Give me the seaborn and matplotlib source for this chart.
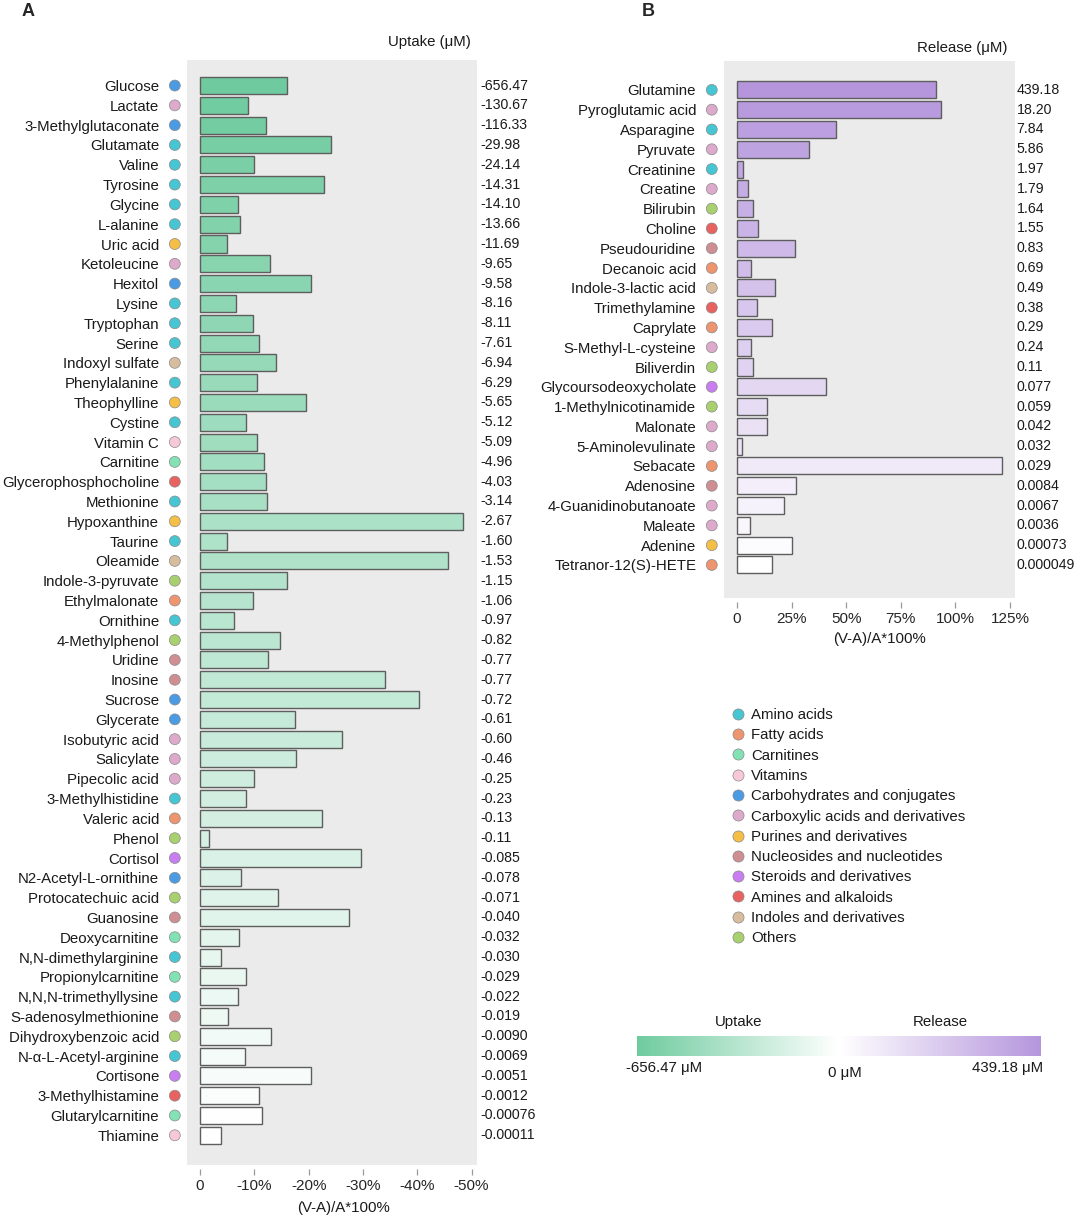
import numpy as np
import pandas as pd
import seaborn as sns
import matplotlib.pyplot as plt
import matplotlib as mpl
from matplotlib.colors import LinearSegmentedColormap, TwoSlopeNorm
from matplotlib.lines import Line2D
import matplotlib.transforms as mtransforms

# ---- data ----
category_names = ["Amino acids", "Fatty acids", "Carnitines", "Vitamins",
                  "Carbohydrates and conjugates", "Carboxylic acids and derivatives",
                  "Purines and derivatives", "Nucleosides and nucleotides",
                  "Steroids and derivatives", "Amines and alkaloids",
                  "Indoles and derivatives", "Others"]
category_colors = ["#45C6D2", "#EE946E", "#82E2B4", "#F7C9D8", "#4A9BE3", "#DDAACB",
                   "#F5BF45", "#CF8E92", "#C87EF0", "#E8625F", "#D8BC9E", "#A9D06E"]

uptake_names = ["Glucose", "Lactate", "3-Methylglutaconate", "Glutamate", "Valine", "Tyrosine",
                "Glycine", "L-alanine", "Uric acid", "Ketoleucine", "Hexitol", "Lysine",
                "Tryptophan", "Serine", "Indoxyl sulfate", "Phenylalanine", "Theophylline",
                "Cystine", "Vitamin C", "Carnitine", "Glycerophosphocholine", "Methionine",
                "Hypoxanthine", "Taurine", "Oleamide", "Indole-3-pyruvate", "Ethylmalonate",
                "Ornithine", "4-Methylphenol", "Uridine", "Inosine", "Sucrose", "Glycerate",
                "Isobutyric acid", "Salicylate", "Pipecolic acid", "3-Methylhistidine",
                "Valeric acid", "Phenol", "Cortisol", "N2-Acetyl-L-ornithine",
                "Protocatechuic acid", "Guanosine", "Deoxycarnitine", "N,N-dimethylarginine",
                "Propionylcarnitine", "N,N,N-trimethyllysine", "S-adenosylmethionine",
                "Dihydroxybenzoic acid", "N-α-L-Acetyl-arginine", "Cortisone",
                "3-Methylhistamine", "Glutarylcarnitine", "Thiamine"]
uptake_pct = [-16.0, -8.8, -12.2, -24.2, -10.0, -22.9, -7.0, -7.4, -4.9, -12.9, -20.4, -6.7,
              -9.7, -10.8, -13.9, -10.5, -19.5, -8.4, -10.4, -11.7, -12.2, -12.4,
              -48.5, -4.9, -45.6, -16.1, -9.8, -6.3, -14.8, -12.6, -34.0, -40.3, -17.5,
              -26.1, -17.6, -10.0, -8.5, -22.5, -1.7, -29.6, -7.6, -14.4, -27.4, -7.2,
              -3.8, -8.5, -7.0, -5.2, -13.1, -8.2, -20.5, -10.8, -11.5, -3.8]
uptake_conc = ["-656.47", "-130.67", "-116.33", "-29.98", "-24.14", "-14.31", "-14.10", "-13.66",
               "-11.69", "-9.65", "-9.58", "-8.16", "-8.11", "-7.61", "-6.94", "-6.29", "-5.65",
               "-5.12", "-5.09", "-4.96", "-4.03", "-3.14", "-2.67", "-1.60", "-1.53", "-1.15",
               "-1.06", "-0.97", "-0.82", "-0.77", "-0.77", "-0.72", "-0.61", "-0.60", "-0.46",
               "-0.25", "-0.23", "-0.13", "-0.11", "-0.085", "-0.078", "-0.071", "-0.040",
               "-0.032", "-0.030", "-0.029", "-0.022", "-0.019", "-0.0090", "-0.0069",
               "-0.0051", "-0.0012", "-0.00076", "-0.00011"]
uptake_cat = [4, 5, 4, 0, 0, 0, 0, 0, 6, 5, 4, 0, 0, 0, 10, 0, 6, 0, 3, 2, 9, 0,
              6, 0, 10, 11, 1, 0, 11, 7, 7, 4, 4, 5, 5, 5, 0, 1, 11, 8, 4, 11, 7, 2,
              0, 2, 0, 7, 11, 0, 8, 9, 2, 3]

release_names = ["Glutamine", "Pyroglutamic acid", "Asparagine", "Pyruvate", "Creatinine",
                 "Creatine", "Bilirubin", "Choline", "Pseudouridine", "Decanoic acid",
                 "Indole-3-lactic acid", "Trimethylamine", "Caprylate", "S-Methyl-L-cysteine",
                 "Biliverdin", "Glycoursodeoxycholate", "1-Methylnicotinamide", "Malonate",
                 "5-Aminolevulinate", "Sebacate", "Adenosine", "4-Guanidinobutanoate",
                 "Maleate", "Adenine", "Tetranor-12(S)-HETE"]
release_pct = [91.2, 93.3, 45.5, 33.0, 2.7, 4.9, 7.2, 9.7, 26.3, 6.4, 17.5, 9.1, 15.9, 6.2,
               7.5, 40.6, 13.9, 13.5, 2.4, 121.3, 26.8, 21.3, 5.9, 25.2, 15.9]
release_conc = ["439.18", "18.20", "7.84", "5.86", "1.97", "1.79", "1.64", "1.55", "0.83",
                "0.69", "0.49", "0.38", "0.29", "0.24", "0.11", "0.077", "0.059", "0.042",
                "0.032", "0.029", "0.0084", "0.0067", "0.0036", "0.00073", "0.000049"]
release_cat = [0, 5, 0, 5, 0, 5, 11, 9, 7, 1, 10, 9, 1, 5, 11, 8, 11, 5, 5, 1, 7, 5, 5, 6, 1]

uptake_color = "#6FCB9F"
release_color = "#B596DD"

# ---- style ----
sns.set_theme(style="white")
plt.rcParams["font.family"] = ["Liberation Sans", "DejaVu Sans"]
FS = 10.8
FS_VAL = 10.2
TXT = "#1a1a1a"

fig = plt.figure(figsize=(10.8, 12.21), dpi=100)
W, H = 1080, 1221


def px_axes(l, t, r, b):
    return fig.add_axes([l / W, 1 - b / H, (r - l) / W, (b - t) / H])


def panel(ax, names, pct, conc, cats, top_color, ylim, xlim, ticks, ticklabels, val_x):
    n = len(names)
    cmap = LinearSegmentedColormap.from_list("g", ["white", top_color])
    bar_colors = [cmap(1 - i / (n - 1)) for i in range(n)]
    df = pd.DataFrame({"name": names, "pct": pct})
    sns.barplot(data=df, x="pct", y="name", hue="name", palette=bar_colors, legend=False,
                orient="h", width=0.86, saturation=1, edgecolor="#5E5E5E", linewidth=1.0,
                ax=ax)
    ax.set_facecolor("#EBEBEB")
    for s in ax.spines.values():
        s.set_visible(False)
    ax.set_ylim(*ylim)
    ax.set_xlim(*xlim)
    ax.set_xticks(ticks)
    ax.set_xticklabels(ticklabels, fontsize=FS, color=TXT)
    ax.spines["bottom"].set_position(("outward", 3))
    ax.tick_params(axis="x", direction="out", length=4, width=0.9, color="#9A9A9A",
                   pad=3, bottom=True)
    ax.tick_params(axis="y", length=0, pad=20, labelsize=FS, labelcolor=TXT)
    ax.set_ylabel("")
    trans = mtransforms.blended_transform_factory(ax.transAxes, ax.transData)
    ax.scatter([-0.042] * n, np.arange(n), s=62, c=[category_colors[c] for c in cats],
               edgecolors="#8A8A8A", linewidths=0.5, transform=trans, clip_on=False, zorder=5)
    for i, v in enumerate(conc):
        ax.text(val_x, i, v, transform=trans, ha="left", va="center", fontsize=FS_VAL,
                color=TXT)


# panel A
axA = px_axes(187, 60, 477, 1165)
panel(axA, uptake_names, uptake_pct, uptake_conc, uptake_cat, uptake_color,
      (54.5, -1.29), (2.4, -51.0), [0, -10, -20, -30, -40, -50],
      ["0", "-10%", "-20%", "-30%", "-40%", "-50%"], 1.01)
axA.set_xlabel("(V-A)/A*100%", fontsize=FS, color=TXT)
axA.xaxis.set_label_coords(0.538, -0.033)

# panel B
axB = px_axes(724, 61, 1015, 598)
panel(axB, release_names, release_pct, release_conc, release_cat, release_color,
      (25.67, -1.46), (-6.0, 127.3), [0, 25, 50, 75, 100, 125],
      ["0", "25%", "50%", "75%", "100%", "125%"], 1.006)
axB.set_xlabel("(V-A)/A*100%", fontsize=FS, color=TXT)
axB.xaxis.set_label_coords(0.535, -0.064)

# titles
fig.text(471 / W, 1 - 42 / H, "Uptake (μM)", ha="right", va="center", fontsize=FS, color=TXT)
fig.text(1007 / W, 1 - 48 / H, "Release (μM)", ha="right", va="center", fontsize=FS, color=TXT)
fig.text(28 / W, 1 - 12 / H, "A", ha="center", va="center", fontsize=13, fontweight="bold")
fig.text(648 / W, 1 - 12 / H, "B", ha="center", va="center", fontsize=13, fontweight="bold")

# category legend
handles = [Line2D([], [], marker="o", linestyle="", markersize=8, markerfacecolor=c,
                  markeredgecolor="#8A8A8A", markeredgewidth=0.5) for c in category_colors]
fig.legend(handles, category_names, loc="upper left", bbox_to_anchor=(730 / W, 1 - 708 / H),
           frameon=False, fontsize=FS, labelspacing=0.42, handlelength=1.0,
           handletextpad=0.4, borderpad=0, borderaxespad=0, labelcolor=TXT)

# uptake / release colour bar
cax = px_axes(637, 1036, 1041, 1056)
div_cmap = LinearSegmentedColormap.from_list("d", [uptake_color, "white", release_color])
cb = mpl.colorbar.ColorbarBase(cax, cmap=div_cmap, orientation="horizontal",
                               norm=TwoSlopeNorm(vmin=-656.47, vcenter=0, vmax=439.18))
cb.outline.set_visible(False)
cax.set_xticks([])
fig.text(739 / W, 1 - 1022 / H, "Uptake", ha="center", va="center", fontsize=FS, color=TXT)
fig.text(940 / W, 1 - 1022 / H, "Release", ha="center", va="center", fontsize=FS, color=TXT)
fig.text(664 / W, 1 - 1068 / H, "-656.47 μM", ha="center", va="center", fontsize=FS, color=TXT)
fig.text(845 / W, 1 - 1073 / H, "0 μM", ha="center", va="center", fontsize=FS, color=TXT)
fig.text(1008 / W, 1 - 1068 / H, "439.18 μM", ha="center", va="center", fontsize=FS, color=TXT)

fig.savefig("out.png", dpi=100, facecolor="white")
